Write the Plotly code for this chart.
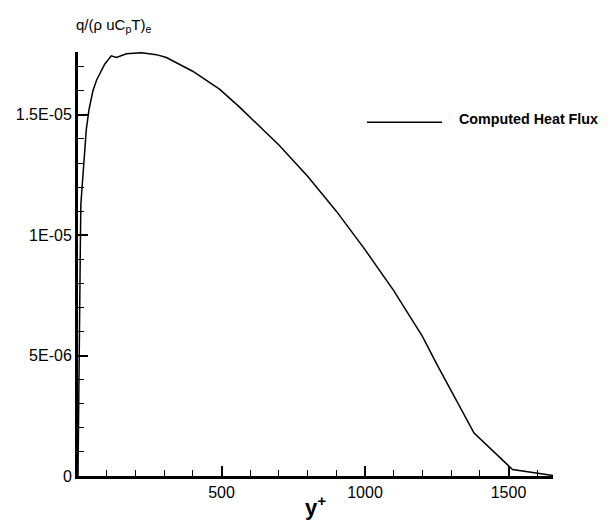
import plotly.graph_objects as go

# y+ values and non-dimensional heat flux q/(rho u Cp T)_e
y_plus = [0, 1, 2, 4, 6, 8, 10, 17, 23, 29, 38, 44, 52, 65, 81, 93, 116, 134,
          169, 221, 273, 308, 401, 494, 563, 600, 700, 800, 900, 1000, 1100,
          1200, 1250, 1380, 1514, 1655]
heat_flux = [0.0, 0.9e-6, 2.0e-6, 4.5e-6, 7.0e-6, 9.4e-6, 11.3e-6, 12.4e-6,
             13.6e-6, 14.4e-6, 15.2e-6, 15.6e-6, 16.0e-6, 16.45e-6, 16.8e-6,
             17.1e-6, 17.45e-6, 17.38e-6, 17.54e-6, 17.58e-6, 17.5e-6,
             17.38e-6, 16.8e-6, 16.06e-6, 15.32e-6, 14.9e-6, 13.75e-6,
             12.45e-6, 11.0e-6, 9.4e-6, 7.7e-6, 5.8e-6, 4.65e-6, 1.78e-6,
             0.27e-6, 0.02e-6]

x_tickvals = [500, 1000, 1500]
x_ticktext = ["500", "1000", "1500"]
y_tickvals = [0, 5e-6, 1e-5, 1.5e-5]
y_ticktext = ["0", "5E-06", "1E-05", "1.5E-05"]
series_name = "Computed Heat Flux"

fig = go.Figure()
fig.add_trace(go.Scatter(x=y_plus, y=heat_flux, mode="lines",
                         line=dict(color="black", width=1.5),
                         name=series_name, showlegend=False))

font = "Liberation Sans, Arial, sans-serif"

fig.update_layout(
    width=613, height=529,
    margin=dict(l=78, r=60, t=52, b=42),
    paper_bgcolor="white", plot_bgcolor="white",
    font=dict(family=font, size=16, color="black"),
    xaxis=dict(range=[0, 1655], showgrid=False, zeroline=False,
               showline=True, linecolor="black", linewidth=3,
               ticks="inside", ticklen=10, tickwidth=2, tickcolor="black",
               tickvals=x_tickvals, ticktext=x_ticktext,
               minor=dict(ticks="inside", ticklen=6, tickwidth=1,
                          tickcolor="black", dtick=100, tick0=0),
               tickfont=dict(size=16, color="black"),
               title=dict(text="<b>y<sup>+</sup></b>",
                          font=dict(size=22, color="black"), standoff=0)),
    yaxis=dict(range=[0, 1.761e-5], showgrid=False, zeroline=False,
               showline=True, linecolor="black", linewidth=3,
               ticks="inside", ticklen=10, tickwidth=2, tickcolor="black",
               tickvals=y_tickvals, ticktext=y_ticktext,
               minor=dict(ticks="inside", ticklen=6, tickwidth=1,
                          tickcolor="black", dtick=1e-6, tick0=0),
               tickfont=dict(size=16, color="black")),
)

# y-axis title at the top left
fig.add_annotation(text="q/(ρ uC<sub>p</sub>T)<sub>e</sub>", xref="paper", yref="paper",
                   x=(113 - 78) / 475, y=1 + (52 - 25) / 435, xanchor="center",
                   yanchor="middle", showarrow=False,
                   font=dict(family=font, size=15, color="black"))

# legend sample line and label
fig.add_shape(type="line", xref="paper", yref="paper",
              x0=(367 - 78) / 475, x1=(442 - 78) / 475,
              y0=(487 - 124) / 435, y1=(487 - 124) / 435,
              line=dict(color="black", width=1.5))
fig.add_annotation(text="<b>" + series_name + "</b>", xref="paper", yref="paper",
                   x=(457 - 78) / 475, y=(487 - 121) / 435, xanchor="left",
                   yanchor="middle", showarrow=False,
                   font=dict(family=font, size=14.3, color="black"))

fig.write_html("out.html")
